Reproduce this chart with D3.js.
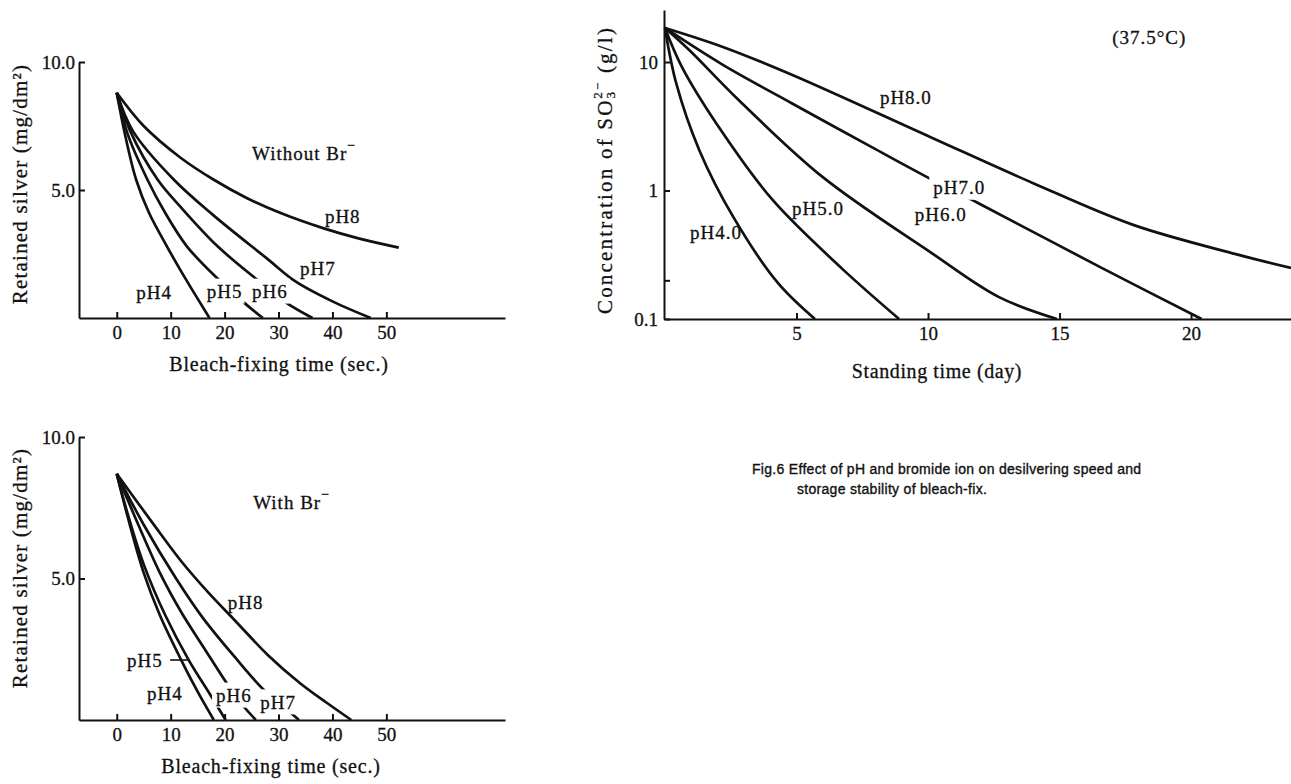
<!DOCTYPE html>
<html>
<head>
<meta charset="utf-8">
<script src="https://cdn.jsdelivr.net/npm/d3@7"></script>
<style>
  body { margin: 0; background: #fff; }
  svg text { font-family: "Liberation Serif", "Times New Roman", serif; fill: #111; stroke: #111; stroke-width: 0.3; }
  svg .caption { font-family: "Liberation Sans", Arial, sans-serif; font-size: 14px; letter-spacing: 0.3px; stroke-width: 0.35; }
  .axis path, .axis line { stroke: #111; stroke-width: 2; }
  .curve { fill: none; stroke: #111; stroke-width: 2.7; stroke-linecap: butt; }
</style>
</head>
<body>
<svg id="fig" width="1291" height="784"></svg>
<script>

// retained silver (mg/dm2) vs bleach-fixing time (sec.), without Br-
var noBr_pH4 = [[0, 8.8], [1.5, 7.2], [3.6, 5.4], [6, 4.1], [9.3, 2.8], [12, 1.8], [14, 1.1], [17.2, 0]];
var noBr_pH5 = [[0, 8.8], [2, 7.2], [5.7, 5.4], [9, 4.1], [13, 2.8], [18.4, 1.6], [23.6, 0.6], [27.1, 0]];
var noBr_pH6 = [[0, 8.8], [2.5, 7.3], [7.6, 5.4], [12, 4.3], [18.7, 2.8], [26, 1.5], [31.4, 0.6], [36.3, 0]];
var noBr_pH7 = [[0, 8.8], [3, 7.3], [10.6, 5.4], [18, 4.0], [28, 2.3], [33, 1.45], [40, 0.65], [47.1, 0]];
var noBr_pH8 = [[0, 8.8], [5, 7.5], [11.9, 6.25], [18, 5.4], [24, 4.7], [30.4, 4.1], [38.4, 3.5], [45, 3.1], [52.3, 2.75]];

// same, with Br-
var br_pH4 = [[0, 8.7], [2, 7.2], [5, 5.2], [8, 3.7], [12, 2.1], [15, 1.0], [18, 0]];
var br_pH5 = [[0, 8.7], [2, 7.3], [5, 5.5], [9, 3.7], [13.4, 2.1], [17, 1.0], [20.2, 0]];
var br_pH6 = [[0, 8.7], [4, 6.9], [8, 5.2], [12, 3.8], [16, 2.6], [20.6, 1.24], [23, 0.6], [25.8, 0]];
var br_pH7 = [[0, 8.7], [5, 6.9], [11, 5.0], [16, 3.6], [22, 2.2], [27.3, 1.06], [31.4, 0.4], [33.8, 0]];
var br_pH8 = [[0, 8.7], [6.5, 7.0], [12, 5.6], [17, 4.5], [22, 3.5], [28, 2.3], [34, 1.3], [39, 0.6], [43.5, 0]];

// SO3 2- concentration (g/l) vs standing time (day), 37.5 C
var so3_pH4 = [[0, 18.4], [0.42, 6.9], [1.3, 2.07], [2.6, 0.62], [4.3, 0.19], [5.7, 0.1]];
var so3_pH5 = [[0, 18.4], [0.65, 9.1], [2.2, 2.8], [4.1, 0.84], [6.7, 0.25], [8.9, 0.1]];
var so3_pH6 = [[0, 18.4], [0.92, 12.4], [2.8, 5.06], [6.0, 1.27], [10.1, 0.33], [12.7, 0.148], [14.9, 0.1]];
var so3_pH7 = [[0, 18.4], [2.2, 9.5], [4.8, 4.8], [8, 2.1], [10.2, 1.2], [11.9, 0.8], [16.6, 0.25], [20.4, 0.1]];
var so3_pH8 = [[0, 18.4], [2.2, 13.1], [4.8, 8.0], [10.1, 2.6], [14, 1.14], [17.8, 0.54], [21.7, 0.32], [23.8, 0.25]];

var silverTicks = [5, 10];
var timeTicks = [0, 10, 20, 30, 40, 50];
var dayTicks = [5, 10, 15, 20];
var concTicks = [0.1, 0.2, 1, 10];

var svg = d3.select("#fig");

// ---------- top left : without Br- ----------
var x1 = d3.scaleLinear().domain([-7, 72]).range([79, 505]);
var y1 = d3.scaleLinear().domain([0, 10]).range([318, 62]);

drawSilverPanel(x1, y1, [noBr_pH4, noBr_pH5, noBr_pH6, noBr_pH7, noBr_pH8], 279, 184);

var g1 = svg.append("g");
addLabel(g1, x1(25.1), y1(6.45), "Without Br", "−", false);
addLabel(g1, x1(38.6), y1(4.0), "pH8", null, false);
addLabel(g1, x1(34), y1(1.95), "pH7", null, false);
addLabel(g1, x1(3.6), y1(1.0), "pH4", null, false);
addLabel(g1, x1(16.7), y1(1.05), "pH5", null, true);
addLabel(g1, x1(25.1), y1(1.05), "pH6", null, true);

// ---------- bottom left : with Br- ----------
var x2 = d3.scaleLinear().domain([-7, 72]).range([79, 505]);
var y2 = d3.scaleLinear().domain([0, 10]).range([720, 437]);

drawSilverPanel(x2, y2, [br_pH4, br_pH5, br_pH6, br_pH7, br_pH8], 271, 568);

var g2 = svg.append("g");
addLabel(g2, x2(25.3), y2(7.7), "With Br", "−", false);
addLabel(g2, x2(20.6), y2(4.17), "pH8", null, false);
addLabel(g2, x2(1.9), y2(2.12), "pH5", null, false);
addLabel(g2, x2(5.6), y2(0.95), "pH4", null, false);
addLabel(g2, x2(18.4), y2(0.88), "pH6", null, true);
addLabel(g2, x2(26.6), y2(0.64), "pH7", null, true);

// little leader from pH5 label to its curve
g2.append("line")
  .attr("x1", x2(9.9)).attr("x2", x2(13.3))
  .attr("y1", y2(2.12)).attr("y2", y2(2.12))
  .attr("stroke", "#111").attr("stroke-width", 1.6);

// ---------- right : sulfite concentration ----------
var x3 = d3.scaleLinear().domain([0, 23.8]).range([665, 1291]);
var y3 = d3.scaleLog().domain([0.1, 25.4]).range([319, 10]);

var g3 = svg.append("g");

g3.selectAll(".curve")
  .data([so3_pH4, so3_pH5, so3_pH6, so3_pH7, so3_pH8])
  .enter().append("path")
  .attr("class", "curve")
  .attr("d", d3.line()
    .x(function(d) { return x3(d[0]); })
    .y(function(d) { return y3(d[1]); })
    .curve(d3.curveCatmullRom.alpha(0.5)));

addLabel(g3, x3(8.17), y3(5.34), "pH8.0", null, false);
addLabel(g3, x3(10.2), y3(1.06), "pH7.0", null, true);
addLabel(g3, x3(9.5), y3(0.66), "pH6.0", null, false);
addLabel(g3, x3(4.83), y3(0.73), "pH5.0", null, false);
addLabel(g3, x3(0.95), y3(0.475), "pH4.0", null, false);
addLabel(g3, x3(17.0), y3(15.7), "(37.5°C)", null, false);

g3.append("g")
  .attr("class", "axis")
  .attr("transform", "translate(0," + y3(0.1) + ")")
  .call(d3.axisBottom(x3)
    .tickValues(dayTicks)
    .tickSizeInner(-6)
    .tickSizeOuter(0)
    .tickPadding(8))
  .call(styleTicks);

g3.append("g")
  .attr("class", "axis")
  .attr("transform", "translate(" + 664 + ",0)")
  .call(d3.axisLeft(y3)
    .tickValues(concTicks)
    .tickFormat(function(d) { return d == 0.2 ? "" : String(d); })
    .tickSizeInner(-6)
    .tickSizeOuter(0)
    .tickPadding(6))
  .call(styleTicks);

g3.append("text")
  .attr("x", 937)
  .attr("y", 378)
  .attr("text-anchor", "middle")
  .attr("font-size", 20)
  .attr("letter-spacing", 0.6)
  .text("Standing time (day)");

var yt = g3.append("text")
  .attr("transform", "translate(605,170) rotate(-90)")
  .attr("text-anchor", "middle")
  .attr("dominant-baseline", "central")
  .attr("font-size", 21)
  .attr("letter-spacing", 2.2);
yt.append("tspan").text("Concentration of SO");
yt.append("tspan").attr("font-size", 13).attr("dy", 5).text("3");
yt.append("tspan").attr("font-size", 13).attr("dx", -9).attr("dy", -13).text("2−");
yt.append("tspan").attr("dy", 8).text(" (g/l)");

// ---------- caption ----------
var cap = svg.append("g");
cap.append("text").attr("class", "caption").attr("x", 752).attr("y", 474)
  .text("Fig.6  Effect of pH and bromide ion on desilvering speed and");
cap.append("text").attr("class", "caption").attr("x", 797).attr("y", 494)
  .text("storage stability of bleach-fix.");


function drawSilverPanel(xs, ys, series, titleX, titleY) {

  var g = svg.append("g");

  g.selectAll(".curve")
    .data(series)
    .enter().append("path")
    .attr("class", "curve")
    .attr("d", d3.line()
      .x(function(d) { return xs(d[0]); })
      .y(function(d) { return ys(d[1]); })
      .curve(d3.curveCatmullRom.alpha(0.5)));

  g.append("g")
    .attr("class", "axis")
    .attr("transform", "translate(0," + ys(0) + ")")
    .call(d3.axisBottom(xs)
      .tickValues(timeTicks)
      .tickSizeInner(-6)
      .tickSizeOuter(0)
      .tickPadding(8))
    .call(styleTicks);

  g.append("g")
    .attr("class", "axis")
    .attr("transform", "translate(" + xs.range()[0] + ",0)")
    .call(d3.axisLeft(ys)
      .tickValues(silverTicks)
      .tickFormat(d3.format(".1f"))
      .tickSizeInner(-6)
      .tickSizeOuter(0)
      .tickPadding(4))
    .call(styleTicks);

  g.append("text")
    .attr("x", titleX)
    .attr("y", ys(0) + 53)
    .attr("text-anchor", "middle")
    .attr("font-size", 20)
    .attr("letter-spacing", 0.8)
    .text("Bleach-fixing time (sec.)");

  g.append("text")
    .attr("transform", "translate(20," + titleY + ") rotate(-90)")
    .attr("text-anchor", "middle")
    .attr("dominant-baseline", "central")
    .attr("font-size", 21)
    .attr("letter-spacing", 1.2)
    .text("Retained silver (mg/dm²)");
}

function styleTicks(sel) {
  sel.selectAll("text")
    .attr("fill", "#111")
    .attr("font-size", 19)
    .attr("font-family", "Liberation Serif, serif");
}

// label; cut = white box behind it so the curve looks broken there
function addLabel(g, x, y, txt, sup, cut) {
  var t = g.append("text")
    .attr("x", x)
    .attr("y", y)
    .attr("dominant-baseline", "central")
    .attr("font-size", 19)
    .attr("letter-spacing", 1);
  t.append("tspan").text(txt);
  if (sup) {
    t.append("tspan").attr("font-size", 14).attr("dy", -8).text(sup);
  }
  if (cut) {
    var b = t.node().getBBox();
    g.insert("rect", function() { return t.node(); })
      .attr("x", b.x - 4).attr("y", b.y - 2)
      .attr("width", b.width + 6).attr("height", b.height + 4)
      .attr("fill", "#fff")
      .attr("stroke", "none");
  }
  return t;
}

</script>
</body>
</html>
